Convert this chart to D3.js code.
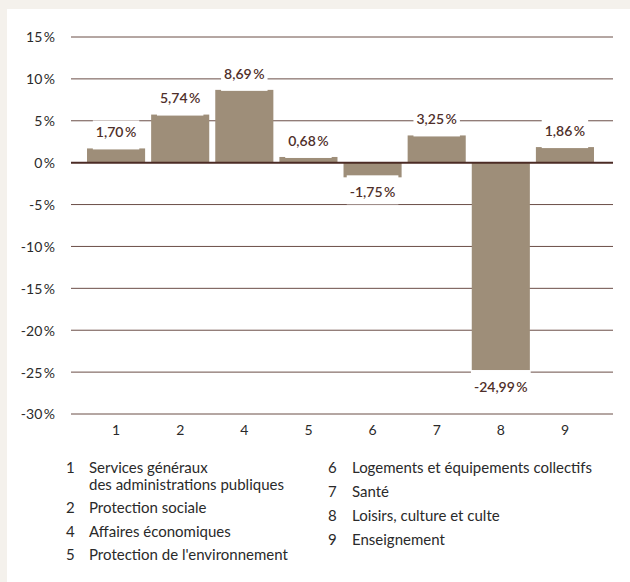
<!DOCTYPE html>
<html><head><meta charset="utf-8">
<script src="https://cdn.jsdelivr.net/npm/d3@7"></script>
<style>
html,body{margin:0;padding:0;background:#f4f1ec;}
svg{display:block;}
</style></head>
<body>
<script>
const categories = ["1","2","4","5","6","7","8","9"];
const values = [1.70, 5.74, 8.69, 0.68, -1.75, 3.25, -24.99, 1.86];
const yTicks = [15, 10, 5, 0, -5, -10, -15, -20, -25, -30];
const legendLeft = [
  {num:"1", lines:["Services généraux","des administrations publiques"]},
  {num:"2", lines:["Protection sociale"]},
  {num:"4", lines:["Affaires économiques"]},
  {num:"5", lines:["Protection de l'environnement"]}
];
const legendRight = [
  {num:"6", lines:["Logements et équipements collectifs"]},
  {num:"7", lines:["Santé"]},
  {num:"8", lines:["Loisirs, culture et culte"]},
  {num:"9", lines:["Enseignement"]}
];

const W = 630, H = 582;
const FONT = "Lato, 'Open Sans', sans-serif";
const svg = d3.select("body").append("svg").attr("width", W).attr("height", H);
svg.append("rect").attr("width", W).attr("height", H).attr("fill", "#f4f1ec");
svg.append("rect").attr("x", 7).attr("y", 9).attr("width", W - 7).attr("height", H - 9).attr("fill", "#ffffff");

const y = d3.scaleLinear().domain([-30, 15]).range([414, 37]);
const x = d3.scaleBand().domain(categories).range([84, 597]).paddingInner(0.094).paddingOuter(0.047);
const gridX0 = 71, gridX1 = 613;

// grid lines
svg.append("g").selectAll("line").data(yTicks.filter(d => d !== 0)).join("line")
  .attr("x1", gridX0).attr("x2", gridX1)
  .attr("y1", d => y(d)).attr("y2", d => y(d))
  .attr("stroke", "#6b4e47").attr("stroke-width", 1);

// y axis labels
const yAxis = d3.axisLeft(y).tickValues(yTicks).tickSize(0).tickPadding(0)
  .tickFormat(d => d);
const gy = svg.append("g").attr("transform", "translate(55,0)").call(yAxis);
gy.select(".domain").remove();
gy.selectAll("text").attr("font-family", FONT).attr("font-size", 14).attr("fill", "#2a2a2a").attr("dy", "0.35em")
  .append("tspan").attr("dx", 1.5).text("%");

// bars
svg.append("g").selectAll("rect").data(values).join("rect")
  .attr("x", (d, i) => x(categories[i]))
  .attr("width", x.bandwidth())
  .attr("y", d => Math.min(y(d), y(0)))
  .attr("height", d => Math.abs(y(d) - y(0)))
  .attr("fill", "#9e8e79");

// zero line
svg.append("line").attr("x1", gridX0).attr("x2", gridX1)
  .attr("y1", y(0)).attr("y2", y(0)).attr("stroke", "#4b2b25").attr("stroke-width", 2);

// value labels
const fmt = v => v.toFixed(2).replace(".", ",");
const lab = svg.append("g").selectAll("g").data(values).join("g")
  .attr("transform", (d, i) => {
    const cx = x(categories[i]) + x.bandwidth() / 2;
    const cy = d >= 0 ? y(d) - 16 : y(d) + 15;
    return `translate(${cx},${cy})`;
  });
const vt = lab.append("text").attr("class", "vl")
  .attr("text-anchor", "middle").attr("dy", "0.35em")
  .attr("font-family", FONT).attr("font-size", 14).attr("font-weight", 600)
  .attr("fill", "#4f2f2a").text(d => fmt(d));
vt.append("tspan").attr("dx", 1.5).text("%");
lab.each(function(d) {
  const g = d3.select(this);
  const bb = g.select("text").node().getBBox();
  const top = d >= 0 ? -12 : -17;
  const bottom = d >= 0 ? 17 : 12;
  g.insert("rect", "text")
    .attr("x", bb.x - 3).attr("width", bb.width + 6)
    .attr("y", top).attr("height", bottom - top)
    .attr("fill", "#ffffff");
});

// x axis labels
const xAxis = d3.axisBottom(x).tickSize(0).tickPadding(0);
const gx = svg.append("g").attr("transform", "translate(0,430)").call(xAxis);
gx.select(".domain").remove();
gx.selectAll("text").attr("font-family", FONT).attr("font-size", 14).attr("fill", "#2a2a2a").attr("dy", "0.35em");

// legend
function drawLegend(items, numX, textX, baselines) {
  const g = svg.append("g").attr("font-family", FONT).attr("font-size", 15).attr("fill", "#2a2a2a");
  items.forEach((it, i) => {
    g.append("text").attr("x", numX).attr("y", baselines[i]).text(it.num);
    it.lines.forEach((ln, j) => {
      g.append("text").attr("x", textX).attr("y", baselines[i] + j * 17).text(ln);
    });
  });
}
drawLegend(legendLeft, 66, 89, [473, 513, 536.5, 560]);
drawLegend(legendRight, 328, 352, [473, 497, 521, 544.5]);
</script>
</body></html>
